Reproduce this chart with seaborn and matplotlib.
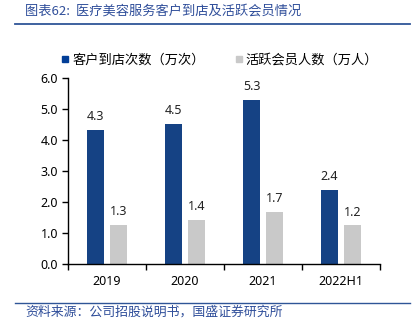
import matplotlib
matplotlib.use("Agg")
import matplotlib.pyplot as plt
import seaborn as sns
import pandas as pd
from matplotlib.lines import Line2D

categories = ["2019", "2020", "2021", "2022H1"]
visits = [4.31, 4.51, 5.29, 2.38]
members = [1.26, 1.42, 1.68, 1.24]
series_names = ["客户到店次数（万次）", "活跃会员人数（万人）"]
title_text = "图表62:  医疗美容服务客户到店及活跃会员情况"
source_text = "资料来源：公司招股说明书，国盛证券研究所"

plt.rcParams['font.family'] = ['Noto Sans', 'Noto Sans CJK SC', 'DejaVu Sans']

df = pd.DataFrame({
    "year": categories * 2,
    "value": visits + members,
    "series": [series_names[0]] * 4 + [series_names[1]] * 4,
})

colors = ["#023E97", "#C9C9C9"]
fig = plt.figure(figsize=(4.17, 3.25), dpi=100)
ax = fig.add_axes([0.163, 0.188, 0.748, 0.572])

sns.barplot(data=df, x="year", y="value", hue="series", palette=colors,
            width=0.58, gap=0.24, ax=ax, linewidth=0, edgecolor="none",
            legend=False)

for cont in ax.containers:
    ax.bar_label(cont, fmt="%.1f", padding=5, fontsize=9, color="#222222")

ax.set_ylim(0, 6)
ax.set_yticks([0, 1, 2, 3, 4, 5, 6])
ax.set_yticklabels([f"{v:.1f}" for v in range(7)], fontsize=9)
ax.set_xlim(-0.5, 3.5)
ax.set_xticks([-0.5, 0.5, 1.5, 2.5, 3.5])
ax.set_xticklabels([])
ax.set_xticks([0, 1, 2, 3], minor=True)
ax.set_xticklabels(categories, minor=True, fontsize=9)
ax.tick_params(axis="x", which="minor", length=0, pad=8)
ax.tick_params(axis="x", which="major", length=4, direction="out", width=1)
ax.tick_params(axis="y", length=4, direction="out", width=1, pad=3)
ax.set_xlabel("")
ax.set_ylabel("")
for s in ["top", "right"]:
    ax.spines[s].set_visible(False)
for s in ["left", "bottom"]:
    ax.spines[s].set_color("black")
    ax.spines[s].set_linewidth(1)
ax.set_facecolor("white")

handles = [Line2D([0], [0], marker="s", linestyle="none", markersize=5,
                  markerfacecolor=c, markeredgecolor=c) for c in colors]
fig.legend(handles, series_names, loc="center", bbox_to_anchor=(0.527, 0.815),
           ncol=2, frameon=False, handlelength=0.6,
           handletextpad=0.2, columnspacing=2.3,
           prop={'family': ['Noto Sans CJK SC', 'DejaVu Sans'], 'size': 9.5})

line_color = "#2F5597"
fig.add_artist(Line2D([15 / 417, 410 / 417], [1 - 24 / 325] * 2,
                      color=line_color, linewidth=1.3))
fig.add_artist(Line2D([15 / 417, 410 / 417], [1 - 302.5 / 325] * 2,
                      color=line_color, linewidth=1.0))
fig.text(25 / 417, 1 - 11 / 325, title_text, fontsize=9.5, color="#2F4E9A",
         va="center", ha="left", style="italic",
         family=['Noto Sans CJK SC', 'DejaVu Sans'])
fig.text(25 / 417, 1 - 312 / 325, source_text, fontsize=9.3, color="#2F4E9A",
         va="center", ha="left", style="italic",
         family=['Noto Sans CJK SC', 'DejaVu Sans'])

fig.savefig("out.png", dpi=100, facecolor="white")
